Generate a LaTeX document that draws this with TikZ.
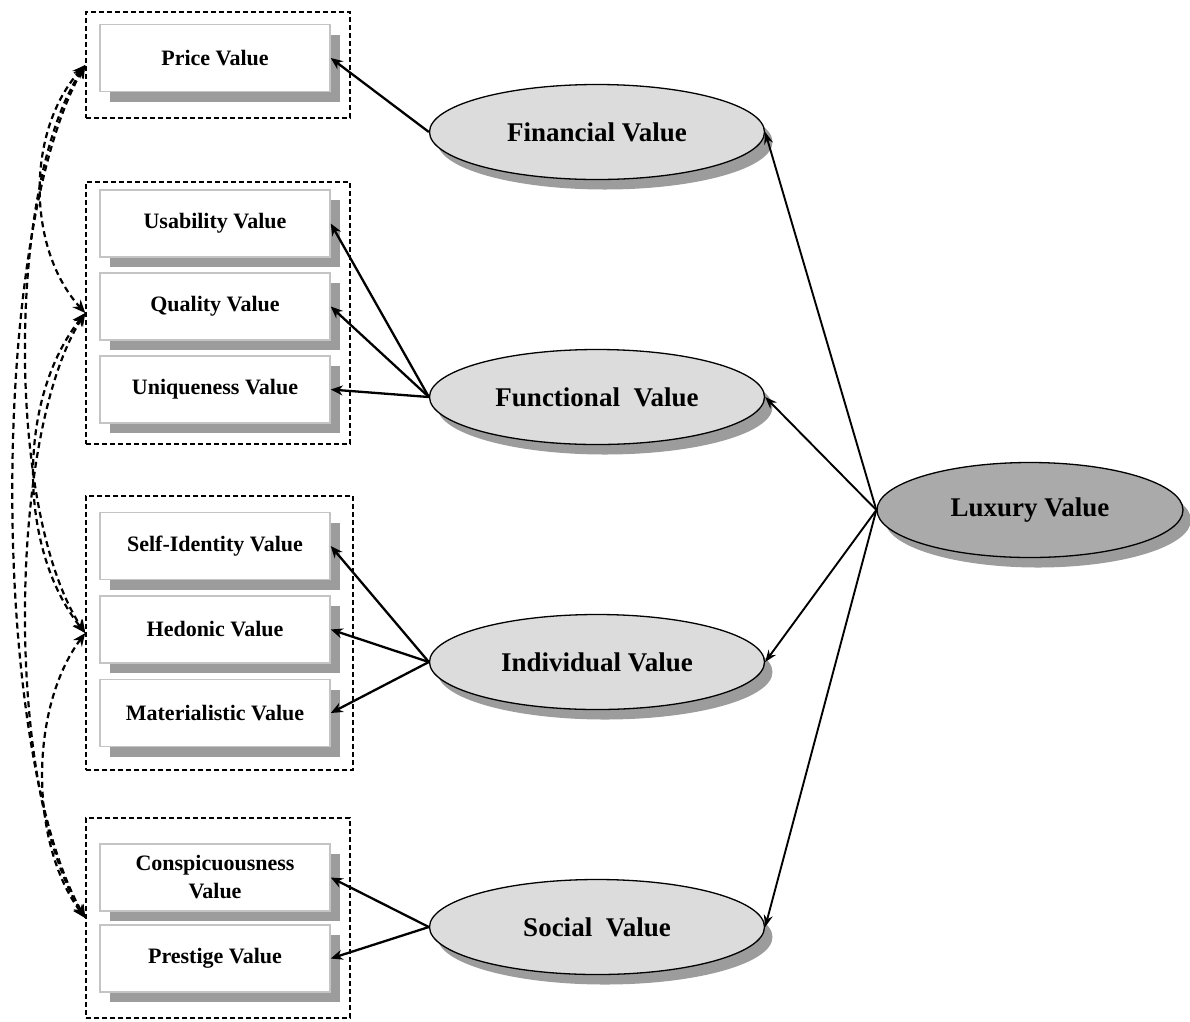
\documentclass[tikz,border=0pt]{standalone}
\usepackage{fontspec}
\setmainfont{Liberation Serif}
\usetikzlibrary{shapes.geometric,shadows,arrows.meta}
\definecolor{shade}{HTML}{9C9C9C}
\definecolor{midfill}{HTML}{DCDCDC}
\definecolor{topfill}{HTML}{AAAAAA}
\definecolor{rim}{HTML}{C4C4C4}
\begin{document}
\begin{tikzpicture}[x=1pt,y=-1pt,
  itembox/.style={draw=rim,line width=1.5pt,fill=white,minimum width=230pt,minimum height=67pt,
    inner sep=2pt,align=center,font=\fontsize{22}{28}\selectfont\bfseries,
    drop shadow={shadow xshift=10pt,shadow yshift=-10pt,fill=shade,opacity=1}},
  group/.style={draw,dash pattern=on 5pt off 3pt,line width=1.5pt,inner sep=0pt},
  construct/.style={ellipse,draw,line width=1.3pt,fill=midfill,minimum width=335pt,minimum height=95pt,
    inner sep=0pt,font=\fontsize{27}{30}\selectfont\bfseries,
    drop shadow={shadow xshift=8pt,shadow yshift=-10pt,fill=shade,opacity=1}},
  link/.style={line width=2.3pt,-{Stealth[length=12pt,width=10pt]}},
  thin link/.style={line width=1.9pt,-{Stealth[length=12pt,width=9pt]}},
  cov/.style={dash pattern=on 6pt off 4pt,line width=2.2pt,
    {Stealth[length=13pt,width=11pt]}-{Stealth[length=13pt,width=11pt]}}
]
\useasboundingbox (0,0) rectangle (1190,1021);

% dashed group frames
\node[group,minimum width=264pt,minimum height=106pt] (g1) at (218,65) {};
\node[group,minimum width=264pt,minimum height=262pt] (g2) at (218,313) {};
\node[group,minimum width=267pt,minimum height=274pt] (g3) at (219.5,633) {};
\node[group,minimum width=264pt,minimum height=200pt] (g4) at (218,918) {};

% indicator boxes
\node[itembox] (price) at (215,58) {Price Value};
\node[itembox] (usab) at (215,223.5) {Usability Value};
\node[itembox] (qual) at (215,306.5) {Quality Value};
\node[itembox] (uniq) at (215,389.5) {Uniqueness Value};
\node[itembox] (self) at (215,546) {Self-Identity Value};
\node[itembox] (hedo) at (215,629.5) {Hedonic Value};
\node[itembox] (mate) at (215,713) {Materialistic Value};
\node[itembox] (consp) at (215,877.5) {Conspicuousness\\Value};
\node[itembox] (prest) at (215,958.5) {Prestige Value};

% value dimensions
\node[construct] (fin) at (597,132) {Financial Value};
\node[construct] (fun) at (597,397) {Functional\ \ Value};
\node[construct] (ind) at (597,662) {Individual Value};
\node[construct] (soc) at (597,927) {Social\ \ Value};
\node[construct,fill=topfill,minimum width=306pt] (lux) at (1030,510) {Luxury Value};

% luxury value to its dimensions
\draw[thin link] (lux.west) -- (fin.east);
\draw[thin link] (lux.west) -- (fun.east);
\draw[thin link] (lux.west) -- (ind.east);
\draw[thin link] (lux.west) -- (soc.east);

% dimensions to indicators
\draw[link] (fin.west) -- (price.east);
\draw[link] (fun.west) -- (usab.east);
\draw[link] (fun.west) -- (qual.east);
\draw[link] (fun.west) -- (uniq.east);
\draw[link] (ind.west) -- (self.east);
\draw[link] (ind.west) -- (hedo.east);
\draw[link] (ind.west) -- (mate.east);
\draw[link] (soc.west) -- (consp.east);
\draw[link] (soc.west) -- (prest.east);

% covariances between the groups
\draw[cov] (g1.west) .. controls +(-59,65) and +(-59,-65) .. (g2.west);
\draw[cov] (g2.west) .. controls +(-68,85) and +(-68,-85) .. (g3.west);
\draw[cov] (g3.west) .. controls +(-56,75) and +(-56,-75) .. (g4.west);
\draw[cov] (g1.west) .. controls +(-79,120) and +(-79,-120) .. (g3.west);
\draw[cov] (g2.west) .. controls +(-79,125) and +(-79,-125) .. (g4.west);
\draw[cov] (g1.west) .. controls +(-96,170) and +(-96,-170) .. (g4.west);
\end{tikzpicture}
\end{document}
